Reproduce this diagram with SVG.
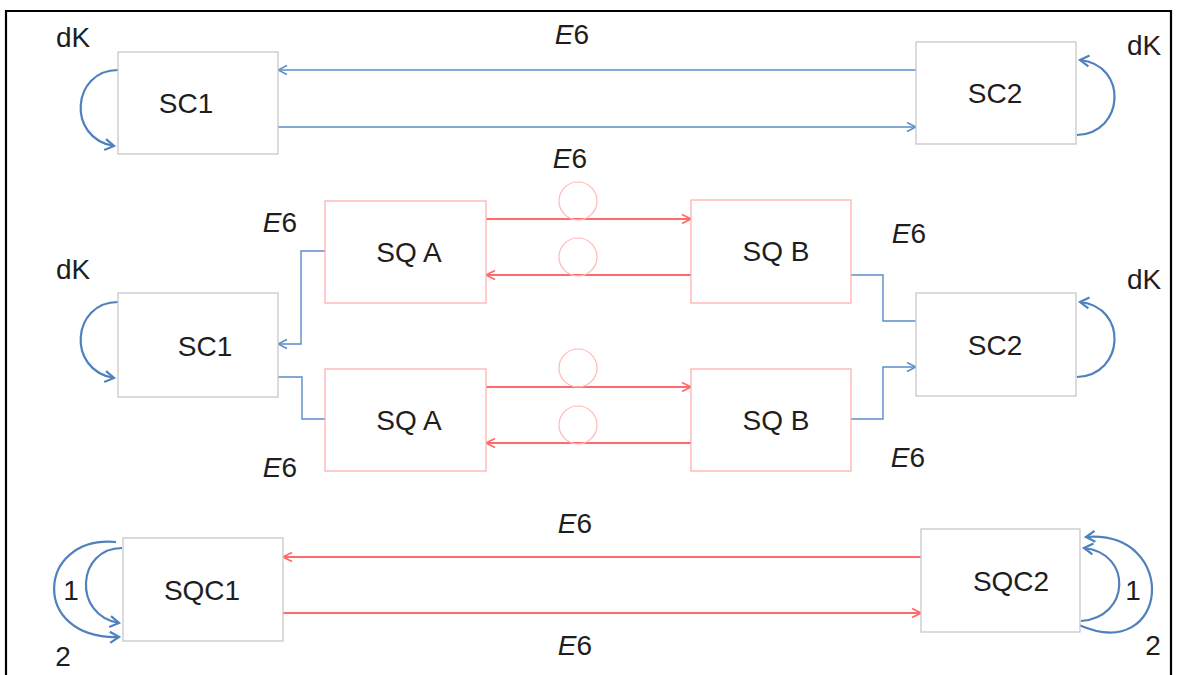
<svg xmlns="http://www.w3.org/2000/svg" width="1178" height="675" viewBox="0 0 1178 675">
  <style>
    .lbl { font-family: "Liberation Sans", Arial, sans-serif; font-size: 28px; fill: #1e1e1e; text-anchor: middle; }
    .gbox { fill: #ffffff; stroke: #c8c8c8; stroke-width: 1.3; }
    .rbox { fill: #ffffff; stroke: #ffb0b0; stroke-width: 1.3; }
    .blue { fill: none; stroke: #5b8bc9; stroke-width: 1.4; }
    .loop { fill: none; stroke: #4f81bd; stroke-width: 2.2; }
    .red { fill: none; stroke: #ff6a6a; stroke-width: 1.8; }
    .ring { fill: none; stroke: #ffb8b8; stroke-width: 1.2; }
  </style>
  <defs>
    <marker id="arrBlue" viewBox="0 0 12 12" refX="11" refY="6" markerWidth="12" markerHeight="12" markerUnits="userSpaceOnUse" orient="auto">
      <path d="M2,1.5 L11,6 L2,10.5" fill="none" stroke="#5b8bc9" stroke-width="1.4"/>
    </marker>
    <marker id="arrLoop" viewBox="0 0 14 14" refX="12" refY="7" markerWidth="14" markerHeight="14" markerUnits="userSpaceOnUse" orient="auto">
      <path d="M3,1.5 L12,7 L3,12.5" fill="none" stroke="#4f81bd" stroke-width="2.2"/>
    </marker>
    <marker id="arrRed" viewBox="0 0 12 12" refX="11" refY="6" markerWidth="12" markerHeight="12" markerUnits="userSpaceOnUse" orient="auto">
      <path d="M2,1.5 L11,6 L2,10.5" fill="none" stroke="#ff6a6a" stroke-width="1.8"/>
    </marker>
  </defs>

  <rect width="1178" height="675" fill="#ffffff"/>
  <!-- frame -->
  <path d="M6,675 L6,11 L1171,11 L1171,675" fill="none" stroke="#000000" stroke-width="2.2"/>

  <!-- connectors -->
  <g id="connectors">
    <!-- top row -->
    <path class="blue" d="M916,70 L278,70" marker-end="url(#arrBlue)"/>
    <path class="blue" d="M278,127 L916,127" marker-end="url(#arrBlue)"/>
    <path class="loop" d="M118,70 C72,70 66,138 114,146" marker-end="url(#arrLoop)"/>
    <path class="loop" d="M1077,135 C1125,133 1128,65 1080,60" marker-end="url(#arrLoop)"/>

    <!-- middle row -->
    <path class="red" d="M486,219 L691,219" marker-end="url(#arrRed)"/>
    <path class="red" d="M691,275 L486,275" marker-end="url(#arrRed)"/>
    <path class="red" d="M486,387 L691,387" marker-end="url(#arrRed)"/>
    <path class="red" d="M691,443 L486,443" marker-end="url(#arrRed)"/>
    <circle class="ring" cx="578" cy="201" r="19"/>
    <circle class="ring" cx="578" cy="257" r="19"/>
    <circle class="ring" cx="578" cy="368" r="19"/>
    <circle class="ring" cx="578" cy="425" r="19"/>
    <path class="blue" d="M325,251 L301,251 L301,344 L278,344" marker-end="url(#arrBlue)"/>
    <path class="blue" d="M278,377 L302,377 L302,419 L325,419"/>
    <path class="blue" d="M850,275 L883,275 L883,321 L916,321"/>
    <path class="blue" d="M850,419 L883,419 L883,367 L916,367" marker-end="url(#arrBlue)"/>
    <path class="loop" d="M118,302 C72,302 66,370 114,378" marker-end="url(#arrLoop)"/>
    <path class="loop" d="M1077,377 C1125,375 1128,307 1080,302" marker-end="url(#arrLoop)"/>

    <!-- bottom row -->
    <path class="red" d="M921,557 L283,557" marker-end="url(#arrRed)"/>
    <path class="red" d="M283,613 L921,613" marker-end="url(#arrRed)"/>
    <path class="loop" d="M122,548 C77,548 72,615 119,623" marker-end="url(#arrLoop)"/>
    <path class="loop" d="M116,542 C36,535 30,640 119,637" marker-end="url(#arrLoop)"/>
    <path class="loop" d="M1081,621 C1130,618 1133,553 1084,548" marker-end="url(#arrLoop)"/>
    <path class="loop" d="M1079,625 C1170,665 1180,530 1086,537" marker-end="url(#arrLoop)"/>
  </g>

  <!-- top row nodes -->
  <g id="sc1-top">
    <rect class="gbox" x="118" y="52" width="160" height="102"/>
    <text class="lbl" x="186" y="113">SC1</text>
  </g>
  <g id="sc2-top">
    <rect class="gbox" x="916" y="42" width="160" height="102"/>
    <text class="lbl" x="995" y="103">SC2</text>
  </g>

  <!-- middle row nodes -->
  <g id="sc1-mid">
    <rect class="gbox" x="118" y="293" width="160" height="104"/>
    <text class="lbl" x="205" y="356">SC1</text>
  </g>
  <g id="sqa-top">
    <rect class="rbox" x="325" y="201" width="161" height="102"/>
    <text class="lbl" x="409" y="262">SQ A</text>
  </g>
  <g id="sqb-top">
    <rect class="rbox" x="691" y="200" width="160" height="103"/>
    <text class="lbl" x="776" y="261">SQ B</text>
  </g>
  <g id="sqa-bottom">
    <rect class="rbox" x="325" y="369" width="161" height="102"/>
    <text class="lbl" x="409" y="430">SQ A</text>
  </g>
  <g id="sqb-bottom">
    <rect class="rbox" x="691" y="369" width="160" height="102"/>
    <text class="lbl" x="776" y="430">SQ B</text>
  </g>
  <g id="sc2-mid">
    <rect class="gbox" x="916" y="293" width="160" height="103"/>
    <text class="lbl" x="995" y="355">SC2</text>
  </g>

  <!-- bottom row nodes -->
  <g id="sqc1">
    <rect class="gbox" x="123" y="538" width="160" height="103"/>
    <text class="lbl" x="202" y="600">SQC1</text>
  </g>
  <g id="sqc2">
    <rect class="gbox" x="921" y="529" width="159" height="103"/>
    <text class="lbl" x="1011" y="591">SQC2</text>
  </g>

  <!-- edge labels -->
  <g id="labels">
    <text class="lbl" x="73" y="47">dK</text>
    <text class="lbl" x="1144" y="55">dK</text>
    <text class="lbl" x="572" y="44"><tspan font-style="italic">E</tspan>6</text>

    <text class="lbl" x="570" y="168"><tspan font-style="italic">E</tspan>6</text>
    <text class="lbl" x="280" y="232"><tspan font-style="italic">E</tspan>6</text>
    <text class="lbl" x="909" y="243"><tspan font-style="italic">E</tspan>6</text>
    <text class="lbl" x="280" y="477"><tspan font-style="italic">E</tspan>6</text>
    <text class="lbl" x="908" y="467"><tspan font-style="italic">E</tspan>6</text>
    <text class="lbl" x="73" y="279">dK</text>
    <text class="lbl" x="1144" y="289">dK</text>

    <text class="lbl" x="575" y="533"><tspan font-style="italic">E</tspan>6</text>
    <text class="lbl" x="575" y="655"><tspan font-style="italic">E</tspan>6</text>
    <text class="lbl" x="71" y="600">1</text>
    <text class="lbl" x="63" y="666">2</text>
    <text class="lbl" x="1133" y="600">1</text>
    <text class="lbl" x="1153" y="655">2</text>
  </g>
</svg>
